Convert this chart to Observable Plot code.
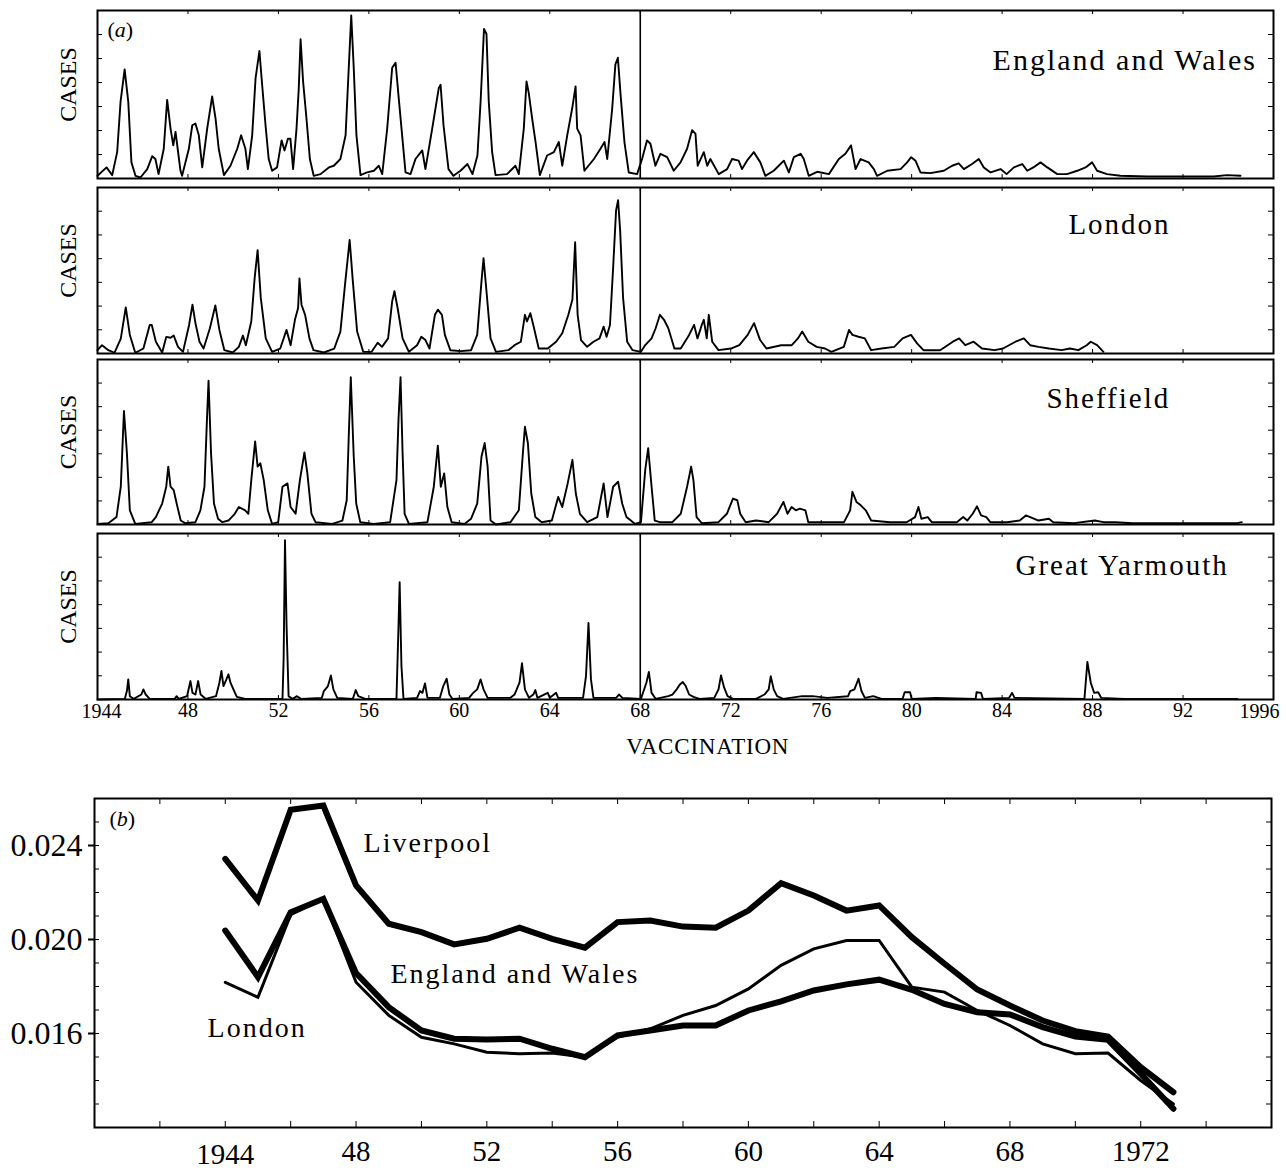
<!DOCTYPE html>
<html>
<head>
<meta charset="utf-8">
<script src="https://cdn.jsdelivr.net/npm/d3@7"></script>
<script src="https://cdn.jsdelivr.net/npm/@observablehq/plot@0.6"></script>
<style>
html, body { margin: 0; padding: 0; background: #fff; }
#chart { position: relative; width: 1286px; height: 1176px; overflow: hidden; background: #fff; }
#chart > svg { position: absolute; left: 0; }
#chart text { font-family: 'Liberation Serif', 'Times New Roman', serif; }
</style>
</head>
<body>
<div id="chart"></div>
<script>
// ---------- Panel (a): measles cases (relative scale, 0-100 of each panel) ----------
const englandWalesCases = [[1944.00,1.6],[1944.40,6.6],[1944.65,2],[1944.87,15.7],[1945.02,45.8],[1945.20,64.9],[1945.36,45.8],[1945.50,9.6],[1945.68,1.6],[1945.90,0.6],[1946.20,5.6],[1946.42,13.3],[1946.56,11.6],[1946.70,2.6],[1946.93,17.7],[1947.08,46.8],[1947.23,29.7],[1947.35,19.7],[1947.45,27.7],[1947.67,4.6],[1947.74,1.6],[1948.04,17.7],[1948.19,31.7],[1948.33,32.7],[1948.48,25.7],[1948.63,6.6],[1948.85,29.7],[1949.07,48.8],[1949.22,35.7],[1949.36,17.7],[1949.59,2],[1949.88,7.6],[1950.18,17.7],[1950.35,25.7],[1950.54,17.7],[1950.65,5.6],[1950.84,25.7],[1950.99,59.8],[1951.16,75.9],[1951.28,55.8],[1951.43,31.7],[1951.57,11.6],[1951.72,4.6],[1951.94,6.6],[1952.14,22.7],[1952.27,16.7],[1952.42,23.7],[1952.53,23.7],[1952.65,5.6],[1952.80,29.7],[1952.90,53.8],[1952.98,82.9],[1953.09,57.8],[1953.24,35.7],[1953.39,11.6],[1953.56,1.6],[1953.86,2.6],[1954.23,6.6],[1954.45,7.6],[1954.74,11.6],[1954.97,25.7],[1955.11,65.9],[1955.22,97],[1955.33,65.9],[1955.45,25.7],[1955.63,2],[1955.92,3.6],[1956.22,4.6],[1956.44,7.6],[1956.59,2.6],[1956.81,29.7],[1957.03,65.9],[1957.18,68.9],[1957.32,47.8],[1957.47,25.7],[1957.62,3.6],[1957.84,2.6],[1958.06,11.6],[1958.36,16.7],[1958.50,5.6],[1958.80,29.7],[1959.09,53.8],[1959.17,55.8],[1959.30,31.7],[1959.52,5.6],[1959.74,1.6],[1960.05,4.6],[1960.36,8.6],[1960.58,2.6],[1960.80,13.7],[1960.94,45.8],[1961.09,89],[1961.20,86],[1961.30,45.8],[1961.45,15.7],[1961.60,2],[1962.11,2.6],[1962.48,7.6],[1962.63,2.6],[1962.85,29.7],[1962.97,57.8],[1963.07,50.8],[1963.22,35.7],[1963.37,21.7],[1963.56,2],[1963.88,13.7],[1964.18,15.7],[1964.40,21.7],[1964.55,7.6],[1964.77,25.7],[1964.99,41.8],[1965.14,54.8],[1965.21,29.7],[1965.36,25.7],[1965.53,4.6],[1965.95,11.6],[1966.24,17.7],[1966.42,21.7],[1966.54,11.6],[1966.76,41.8],[1966.90,67.9],[1967.01,71.9],[1967.13,49.8],[1967.30,21.7],[1967.49,3.6],[1967.86,2.6],[1968.08,11.6],[1968.30,22.7],[1968.45,20.7],[1968.67,7.6],[1968.89,14.7],[1969.19,12.7],[1969.48,4.6],[1969.78,9.6],[1970.07,17.7],[1970.29,28.7],[1970.44,26.7],[1970.54,7.6],[1970.81,15.7],[1970.96,7.6],[1971.10,11.6],[1971.47,2.6],[1971.84,5.6],[1972.06,11.6],[1972.35,10.6],[1972.50,5.6],[1972.72,10.6],[1973.02,15.7],[1973.31,9.6],[1973.53,1.6],[1973.90,4.6],[1974.35,10.6],[1974.57,3.6],[1974.79,12.7],[1975.09,14.7],[1975.23,11.6],[1975.45,1.6],[1975.82,4],[1976.34,2.6],[1976.78,11.6],[1977.07,14.7],[1977.32,19.7],[1977.52,5.6],[1977.74,11.6],[1978.10,9.6],[1978.33,5.6],[1978.47,1.6],[1978.92,4.6],[1979.51,5.6],[1979.80,9.6],[1979.98,12.7],[1980.17,10.6],[1980.39,3.6],[1980.83,3.2],[1981.42,4.6],[1981.79,7.6],[1982.08,9],[1982.31,5.6],[1982.67,8.6],[1982.97,11.6],[1983.19,6.6],[1983.49,3.6],[1983.93,5.6],[1984.20,2.6],[1984.52,6.6],[1984.89,8.6],[1985.11,4.6],[1985.38,6.6],[1985.70,9.6],[1986.00,6.6],[1986.44,2.6],[1986.87,2.6],[1987.32,4.6],[1987.69,6.6],[1987.98,9.6],[1988.20,4.6],[1988.64,2.6],[1989.23,1.6],[1990.41,1.2],[1993.35,1.2],[1993.95,2],[1994.54,1.6]];

const londonCases = [[1944.00,2],[1944.20,5],[1944.48,2],[1944.75,0.4],[1945.03,9],[1945.25,27.8],[1945.43,11.2],[1945.67,0.4],[1946.03,3],[1946.31,17.2],[1946.40,17.2],[1946.58,7.1],[1946.86,0.6],[1947.04,10],[1947.23,9.5],[1947.37,10.8],[1947.56,4],[1947.78,1],[1948.05,17.2],[1948.20,29.4],[1948.33,18.3],[1948.51,7.1],[1948.69,3],[1948.97,15.2],[1949.21,29],[1949.39,14.2],[1949.61,2],[1949.98,0.6],[1950.25,4],[1950.43,10.8],[1950.56,5],[1950.80,19.3],[1950.95,45.6],[1951.08,62.3],[1951.22,33.5],[1951.44,9.1],[1951.72,1],[1952.08,3],[1952.36,14.2],[1952.54,5],[1952.73,20.3],[1952.87,27.4],[1952.93,45.2],[1953.02,29.4],[1953.18,23.3],[1953.37,9.1],[1953.55,2],[1954.01,0.6],[1954.47,3],[1954.74,13.2],[1954.96,43.6],[1955.15,68.4],[1955.29,43.6],[1955.48,13.2],[1955.75,1],[1956.12,1],[1956.39,6.5],[1956.58,4],[1956.85,9.1],[1957.03,31.4],[1957.13,37.5],[1957.27,27.4],[1957.49,9.1],[1957.77,1],[1958.13,5],[1958.32,10.1],[1958.50,8.1],[1958.68,3],[1958.92,23.3],[1959.05,26.4],[1959.23,23.3],[1959.36,11.2],[1959.60,2],[1960.06,1.4],[1960.52,2],[1960.79,11.2],[1960.98,43.6],[1961.07,57.4],[1961.20,37.5],[1961.38,9.1],[1961.62,1],[1962.17,2],[1962.44,5],[1962.72,7.1],[1962.90,23.3],[1962.99,19.3],[1963.14,24.3],[1963.27,17.2],[1963.51,3],[1963.91,3],[1964.28,7.1],[1964.55,12.2],[1964.82,23.3],[1965.00,32.5],[1965.12,67],[1965.23,23.3],[1965.38,8.1],[1965.65,4],[1965.93,7.1],[1966.20,9.1],[1966.38,16.2],[1966.51,10.1],[1966.66,17.2],[1966.80,51.7],[1966.93,86.2],[1967.02,92.3],[1967.11,74],[1967.24,33.5],[1967.42,7.1],[1967.66,2],[1968.03,1],[1968.22,5.1],[1968.50,9.1],[1968.68,15.2],[1968.87,23.3],[1969.05,20.3],[1969.24,15.2],[1969.51,3],[1969.79,3],[1970.16,11.2],[1970.38,17.2],[1970.53,9.1],[1970.72,17.2],[1970.81,20.3],[1970.94,9.1],[1971.03,23.3],[1971.18,7.1],[1971.46,2],[1972.01,3],[1972.38,5],[1972.75,11.2],[1973.03,18.3],[1973.30,8.1],[1973.58,3],[1974.23,5],[1974.70,5],[1974.97,9.1],[1975.16,13.2],[1975.43,7.1],[1975.80,4],[1976.17,3],[1976.45,1],[1977.00,4],[1977.23,14.2],[1977.38,11.2],[1977.65,10.1],[1977.93,9.1],[1978.21,2],[1978.67,3],[1979.23,4],[1979.60,9.1],[1979.97,11.2],[1980.24,6.1],[1980.52,2],[1981.26,2],[1981.82,7.1],[1982.10,9.1],[1982.37,5],[1982.74,7.1],[1983.11,3],[1983.67,2],[1984.04,3],[1984.59,7.1],[1984.96,9.1],[1985.24,5],[1985.61,4],[1986.07,3],[1986.63,2],[1987.00,3],[1987.37,2],[1987.74,5],[1987.92,7.1],[1988.20,5],[1988.48,1]];

const sheffieldCases = [[1944.00,0.4],[1944.48,0.8],[1944.84,4.5],[1945.03,22.9],[1945.17,68.8],[1945.30,43.3],[1945.43,8.6],[1945.67,0.4],[1946.40,1.4],[1946.58,4.5],[1946.86,12.7],[1947.04,22.9],[1947.13,35.1],[1947.23,22.9],[1947.37,20.8],[1947.50,12.7],[1947.68,2.4],[1947.87,0.8],[1948.33,1.4],[1948.55,8.6],[1948.73,22.9],[1948.84,63.7],[1948.91,87.1],[1949.02,43.3],[1949.15,12.7],[1949.33,3.5],[1949.52,1.4],[1949.79,2.4],[1950.07,6.5],[1950.25,10.6],[1950.53,8.6],[1950.67,6.5],[1950.80,26.9],[1950.97,50.4],[1951.08,35.1],[1951.20,37.1],[1951.35,26.9],[1951.53,8.6],[1951.72,0.4],[1951.99,1.4],[1952.18,22.9],[1952.40,24.9],[1952.54,10.6],[1952.76,6.5],[1952.95,26.9],[1953.15,43.7],[1953.28,31],[1953.46,6.5],[1953.64,1.4],[1954.38,0.4],[1954.83,2.4],[1955.02,14.7],[1955.11,53.5],[1955.20,89.2],[1955.33,41.2],[1955.44,12.7],[1955.62,1.4],[1956.21,0.4],[1956.94,1.4],[1957.22,26.9],[1957.31,63.7],[1957.40,89.2],[1957.49,43.3],[1957.58,6.5],[1957.77,0.4],[1958.59,1.4],[1958.87,22.9],[1959.05,47.8],[1959.18,22.9],[1959.33,31],[1959.47,10.6],[1959.66,1.4],[1960.24,0.4],[1960.52,3.5],[1960.79,12.7],[1960.98,41.2],[1961.12,49.4],[1961.25,35.1],[1961.38,2.4],[1961.62,0],[1962.26,1.4],[1962.63,8.6],[1962.81,43.3],[1962.90,59.2],[1963.03,49.4],[1963.18,18.8],[1963.36,4.5],[1963.64,1.4],[1964.09,2.4],[1964.37,16.7],[1964.55,10.6],[1964.79,24.9],[1965.00,39.2],[1965.15,18.8],[1965.33,6.5],[1965.65,1.4],[1966.10,4.5],[1966.38,24.9],[1966.55,4.5],[1966.80,22.9],[1967.02,25.9],[1967.20,12.7],[1967.39,4.5],[1967.76,0.4],[1968.03,1.4],[1968.22,33.1],[1968.35,46.3],[1968.50,22.9],[1968.64,2.4],[1968.87,1.4],[1969.42,1.4],[1969.79,6.5],[1970.07,22.9],[1970.25,35.1],[1970.35,26.9],[1970.49,4.5],[1970.72,0.8],[1971.46,1.4],[1971.83,6.5],[1972.10,15.7],[1972.29,14.7],[1972.42,6.5],[1972.66,1.4],[1973.12,2.4],[1973.68,1.4],[1974.05,6.5],[1974.33,13.7],[1974.51,6.5],[1974.69,10.6],[1974.88,8.6],[1975.06,9.6],[1975.30,8.6],[1975.43,1.4],[1976.27,1.4],[1977.01,1.4],[1977.28,8.6],[1977.38,19.8],[1977.56,13.7],[1977.75,11.6],[1977.97,8.6],[1978.21,2.4],[1979.04,1.4],[1979.78,1.4],[1980.15,4.5],[1980.30,10.6],[1980.43,3.5],[1980.71,4.5],[1980.89,1.4],[1982.00,1.4],[1982.28,4.5],[1982.46,2.4],[1982.70,6.5],[1982.89,11],[1983.07,5.5],[1983.30,4.5],[1983.48,1.4],[1984.22,1.4],[1984.78,2.4],[1985.05,5.5],[1985.24,4.5],[1985.61,2.4],[1986.07,3.5],[1986.26,1.4],[1987.18,0.8],[1988.10,2.4],[1988.48,1.4],[1989.03,1.4],[1989.77,0.8],[1994.40,0.8],[1994.60,1.4]];

const yarmouthCases = [[1944.00,0],[1945.21,0.4],[1945.30,5.1],[1945.36,12.1],[1945.43,2],[1945.60,0.4],[1945.94,3],[1946.03,6.1],[1946.13,3],[1946.31,0.4],[1947.41,0.4],[1947.50,2],[1947.59,0.4],[1947.96,2],[1948.11,11.1],[1948.20,4],[1948.33,3],[1948.45,11.1],[1948.56,3],[1948.78,0.4],[1949.24,2],[1949.39,10.1],[1949.48,17.2],[1949.57,8.1],[1949.70,12.1],[1949.79,15.2],[1949.88,10.1],[1950.01,6.1],[1950.16,1.6],[1950.53,0.4],[1952.18,0.4],[1952.23,24.2],[1952.29,96],[1952.36,44.4],[1952.45,2],[1952.63,0.4],[1952.82,2],[1953.00,0.4],[1953.92,1],[1954.01,5.1],[1954.19,8.1],[1954.32,14.5],[1954.43,6.1],[1954.60,1],[1955.29,0.4],[1955.42,5.7],[1955.53,2],[1955.84,0.4],[1957.22,0.4],[1957.31,44.4],[1957.36,70.7],[1957.44,20.2],[1957.53,0.4],[1958.13,1],[1958.26,5.1],[1958.37,4],[1958.48,9.7],[1958.59,1],[1959.14,1],[1959.29,8.1],[1959.44,12.5],[1959.56,3],[1959.69,0.4],[1960.43,1],[1960.61,4],[1960.79,6.1],[1960.94,12.1],[1961.07,6.1],[1961.25,1],[1962.26,1],[1962.44,3],[1962.66,10.1],[1962.77,21.8],[1962.90,6.1],[1963.08,1],[1963.27,3],[1963.36,5.7],[1963.45,1],[1963.91,4],[1964.00,1],[1964.28,4],[1964.37,1],[1965.47,1],[1965.60,14.1],[1965.71,46.1],[1965.82,12.1],[1965.93,1],[1966.93,1],[1967.06,3],[1967.21,1],[1968.03,0.4],[1968.27,10.1],[1968.38,16.6],[1968.50,4],[1968.68,0.4],[1969.24,2],[1969.42,3],[1969.61,6.1],[1969.75,9.1],[1969.88,10.5],[1970.01,8.1],[1970.16,3],[1970.35,1.6],[1970.62,0.4],[1971.27,1],[1971.46,6.1],[1971.57,14.5],[1971.71,7.1],[1971.86,2],[1972.10,0.4],[1973.12,0.4],[1973.49,3],[1973.68,6.1],[1973.77,14.1],[1973.90,6.1],[1974.05,2],[1974.32,0.4],[1975.16,2],[1975.62,2],[1976.27,1],[1977.19,2],[1977.28,5.1],[1977.47,6.1],[1977.65,12.5],[1977.78,5.1],[1977.93,1],[1978.30,2],[1978.67,0.4],[1979.60,0.4],[1979.69,4.4],[1979.93,4.4],[1980.00,0.4],[1981.08,1],[1982.83,0.4],[1982.87,4.4],[1983.07,4],[1983.15,0.4],[1984.31,1],[1984.44,4],[1984.55,1],[1987.64,0.4],[1987.77,22.6],[1987.92,10.1],[1988.07,4],[1988.25,4.4],[1988.38,1],[1989.40,0.4],[1994.40,0.4]];

const placeNames = ["England and Wales", "London", "Sheffield", "Great Yarmouth"];
const vaccinationYear = 1968;
const axisATicks = [1944, 1948, 1952, 1956, 1960, 1964, 1968, 1972, 1976, 1980, 1984, 1988, 1992, 1996];

// ---------- Panel (b): birth rates ----------
const birthYears = [1944,1945,1946,1947,1948,1949,1950,1951,1952,1953,1954,1955,1956,1957,1958,1959,1960,1961,1962,1963,1964,1965,1966,1967,1968,1969,1970,1971,1972,1973];
const liverpoolBirths = [0.02343,0.02166,0.02552,0.02570,0.02230,0.02067,0.02031,0.01979,0.02003,0.02050,0.02003,0.01965,0.02074,0.02081,0.02055,0.02050,0.02123,0.02240,0.02187,0.02123,0.02145,0.02010,0.01897,0.01787,0.01719,0.01655,0.01610,0.01587,0.01457,0.01350];
const englandWalesBirths = [0.02038,0.01840,0.02116,0.02173,0.01857,0.01712,0.01613,0.01578,0.01574,0.01578,0.01535,0.01499,0.01592,0.01613,0.01634,0.01634,0.01698,0.01737,0.01783,0.01809,0.01829,0.01786,0.01726,0.01690,0.01681,0.01627,0.01587,0.01573,0.01429,0.01280];
const londonBirths = [0.01818,0.01754,0.02106,0.02173,0.01818,0.01677,0.01584,0.01556,0.01520,0.01514,0.01517,0.01499,0.01584,0.01620,0.01677,0.01719,0.01790,0.01890,0.01960,0.01996,0.01996,0.01797,0.01776,0.01698,0.01634,0.01556,0.01514,0.01517,0.01400,0.01300];
const axisBTicks = [1944, 1948, 1952, 1956, 1960, 1964, 1968, 1972];
const axisBYTicks = [0.016, 0.020, 0.024];

// ---------- drawing ----------
const SERIF = "'Liberation Serif', 'Times New Roman', serif";
const W = 1286;
const chart = document.getElementById("chart");
const baseStyle = {background: "transparent", fontFamily: SERIF, color: "#000", overflow: "visible"};

function spaced(svg, names, spacing) {
  d3.select(svg).selectAll("text")
    .filter(function () { return names.includes(this.textContent); })
    .style("letter-spacing", spacing);
}
function italicLetter(svg, label) {
  d3.select(svg).selectAll("text")
    .filter(function () { return this.textContent === label; })
    .each(function () {
      const t = d3.select(this);
      t.text(null);
      t.append("tspan").text("(");
      t.append("tspan").attr("font-style", "italic").text(label.slice(1, -1));
      t.append("tspan").text(")");
    });
}

const seriesA = [englandWalesCases, londonCases, sheffieldCases, yarmouthCases];
const framesA = [[10, 178], [187, 353], [359, 524], [533, 699]];
const labelPosA = [[1983.58, 64.3, 30], [1986.93, 71.7, 29], [1985.96, 70.9, 29], [1984.59, 74.7, 29]];
const yTicksA = d3.range(1, 7).map(k => k * 100 / 7);

seriesA.forEach((data, i) => {
  const [ft, fb] = framesA[i];
  const isLast = i === seriesA.length - 1;
  const mt = 6, mb = isLast ? 70 : 6;
  const innerH = fb - ft;
  const innerW = W - 97 - 13;
  const [lx, ly, lfs] = labelPosA[i];
  const marks = [
    Plot.ruleY(yTicksA, {y: d => d, insetRight: innerW - 5, stroke: "#000", strokeWidth: 1}),
    Plot.ruleY(yTicksA, {y: d => d, insetLeft: innerW - 5, stroke: "#000", strokeWidth: 1}),
    Plot.ruleX(axisATicks, {x: d => d, insetBottom: innerH - 4, stroke: "#000", strokeWidth: 1}),
    Plot.ruleX(axisATicks, {x: d => d, insetTop: innerH - 4, stroke: "#000", strokeWidth: 1}),
    Plot.line(data, {x: d => d[0], y: d => d[1], stroke: "#000", strokeWidth: 1.9, strokeLinejoin: "round"}),
    Plot.ruleX([vaccinationYear], {x: d => d, stroke: "#000", strokeWidth: 1.6}),
    Plot.frame({stroke: "#000", strokeWidth: 2}),
    Plot.text(["CASES"], {frameAnchor: "left", rotate: -90, textAnchor: "middle", lineAnchor: "bottom",
      dx: -22, dy: -10, fontSize: 24, fontFamily: SERIF, fill: "#000"}),
    Plot.text([placeNames[i]], {x: () => lx, y: () => ly, text: d => d, textAnchor: "start",
      lineAnchor: "bottom", fontSize: lfs, fontFamily: SERIF, fill: "#000"})
  ];
  if (i === 0) {
    marks.push(Plot.text(["(a)"], {x: () => 1944.44, y: () => 84.5, text: d => d, textAnchor: "start",
      lineAnchor: "bottom", fontSize: 22, fontFamily: SERIF, fill: "#000"}));
  }
  if (isLast) {
    marks.push(
      Plot.axisX(axisATicks.slice(1, -1), {tickSize: 0, tickPadding: 3, fontSize: 20, fontFamily: SERIF, label: null,
        tickFormat: d => String(d).slice(2), fill: "#000"}),
      Plot.text([axisATicks[0]], {x: d => d, frameAnchor: "bottom", text: d => String(d), lineAnchor: "top",
        dy: 4, dx: 4, fontSize: 20, fontFamily: SERIF, fill: "#000"}),
      Plot.text([axisATicks[axisATicks.length - 1]], {x: d => d, frameAnchor: "bottom", text: d => String(d),
        lineAnchor: "top", textAnchor: "end", dy: 4, dx: 6, fontSize: 20, fontFamily: SERIF, fill: "#000"}),
      Plot.text(["VACCINATION"], {x: () => vaccinationYear, frameAnchor: "bottom", text: d => d,
        textAnchor: "start", lineAnchor: "bottom", dy: 54, dx: -14, fontSize: 23, fontFamily: SERIF, fill: "#000"})
    );
  }
  const svg = Plot.plot({
    width: W, height: innerH + mt + mb,
    marginLeft: 97, marginRight: 13, marginTop: mt, marginBottom: mb,
    style: baseStyle,
    x: {domain: [1944, 1996], axis: isLast ? undefined : null},
    y: {domain: [0, 100], axis: null},
    marks
  });
  svg.style.top = (ft - mt) + "px";
  spaced(svg, placeNames, "2px");
  spaced(svg, ["VACCINATION"], "0.8px");
  italicLetter(svg, "(a)");
  chart.appendChild(svg);
});

// Panel (b)
const rows = (vals) => birthYears.map((year, i) => ({year, rate: vals[i]}));
const bTop = 798, bBottom = 1127, bSvgTop = 790;
const bInnerW = W - 94 - 15, bInnerH = bBottom - bTop;
const minorY = d3.range(13, 26).map(k => k / 1000);
const minorX = d3.range(1942, 1976, 2);
const labelNamesB = ["Liverpool", "England and Wales", "London"];

const svgB = Plot.plot({
  width: W, height: 1176 - bSvgTop,
  marginLeft: 94, marginRight: 15, marginTop: bTop - bSvgTop, marginBottom: 1176 - bBottom,
  style: baseStyle,
  x: {domain: [1940, 1976]},
  y: {domain: [0.012, 0.026]},
  marks: [
    Plot.ruleY(minorY, {y: d => d, insetRight: bInnerW - 5, stroke: "#000", strokeWidth: 1}),
    Plot.ruleY(minorY, {y: d => d, insetLeft: bInnerW - 5, stroke: "#000", strokeWidth: 1}),
    Plot.ruleX(minorX, {x: d => d, insetBottom: bInnerH - 6, stroke: "#000", strokeWidth: 1}),
    Plot.ruleX(minorX, {x: d => d, insetTop: bInnerH - 6, stroke: "#000", strokeWidth: 1}),
    Plot.line(rows(liverpoolBirths), {x: "year", y: "rate", stroke: "#000", strokeWidth: 6, strokeLinejoin: "miter", strokeMiterlimit: 3}),
    Plot.line(rows(englandWalesBirths), {x: "year", y: "rate", stroke: "#000", strokeWidth: 6, strokeLinejoin: "miter", strokeMiterlimit: 3}),
    Plot.line(rows(londonBirths), {x: "year", y: "rate", stroke: "#000", strokeWidth: 3, strokeLinejoin: "miter", strokeMiterlimit: 3}),
    Plot.frame({stroke: "#000", strokeWidth: 2}),
    Plot.axisX(axisBTicks.slice(1), {tickSize: 0, tickPadding: 13, fontSize: 29, fontFamily: SERIF, label: null, fill: "#000",
      tickFormat: (d) => d === 1972 ? String(d) : String(d).slice(2)}),
    Plot.text([axisBTicks[0]], {x: d => d, frameAnchor: "bottom", text: d => String(d), lineAnchor: "top",
      dy: 16, fontSize: 29, fontFamily: SERIF, fill: "#000"}),
    Plot.axisY(axisBYTicks, {tickSize: 6, tickPadding: 6, fontSize: 32, fontFamily: SERIF, label: null, fill: "#000", stroke: "#000", strokeWidth: 2,
      tickFormat: d3.format(".3f")}),
    Plot.text(["Liverpool"], {x: () => 1948.23, y: () => 0.02374, text: d => d, textAnchor: "start", lineAnchor: "bottom", fontSize: 28, fontFamily: SERIF, fill: "#000"}),
    Plot.text(["England and Wales"], {x: () => 1949.05, y: () => 0.01813, text: d => d, textAnchor: "start", lineAnchor: "bottom", fontSize: 28, fontFamily: SERIF, fill: "#000"}),
    Plot.text(["London"], {x: () => 1943.46, y: () => 0.01583, text: d => d, textAnchor: "start", lineAnchor: "bottom", fontSize: 28, fontFamily: SERIF, fill: "#000"}),
    Plot.text(["(b)"], {x: () => 1940.46, y: () => 0.02485, text: d => d, textAnchor: "start", lineAnchor: "bottom", fontSize: 22, fontFamily: SERIF, fill: "#000"})
  ]
});
svgB.style.top = bSvgTop + "px";
spaced(svgB, labelNamesB, "2px");
italicLetter(svgB, "(b)");
chart.appendChild(svgB);
</script>
</body>
</html>
